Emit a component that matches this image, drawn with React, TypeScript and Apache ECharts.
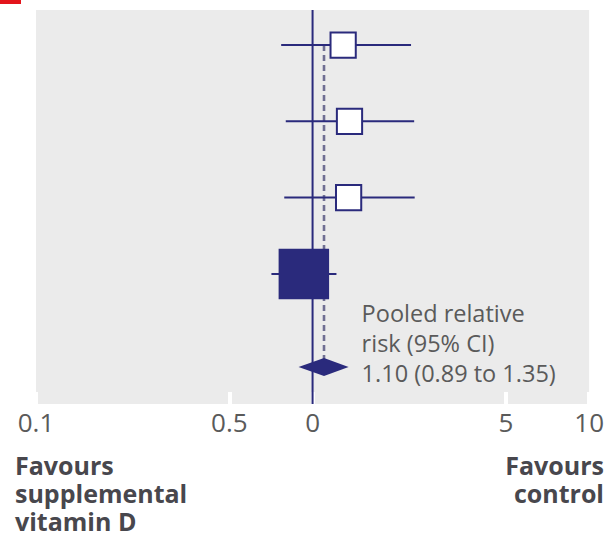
import React, { useEffect, useRef } from "react";
import * as echarts from "echarts";

// ---- Data ----
const studyRR = [1.29, 1.36, 1.35, 0.93];
const studyLower = [0.77, 0.8, 0.79, 0.71];
const studyUpper = [2.27, 2.33, 2.34, 1.22];
const studyWeight = [13, 13, 13, 52];
const studyRow = [0, 1, 2, 3];

const pooledRR = 1.1;
const pooledLower = 0.89;
const pooledUpper = 1.35;
const pooledRow = 4.22;

const tickValues = [0.1, 0.5, 1, 5, 10];
const tickLabels = ["0.1", "0.5", "0", "5", "10"];

const leftLabel = ["Favours", "supplemental", "vitamin D"];
const rightLabel = ["Favours", "control"];

// ---- Style ----
const NAVY = "#2a2a7c";
const GRID_BG = "#ebebeb";
const TEXT_GRAY = "#5a5a5a";
const BOLD_GRAY = "#48474d";
const FONT = '"Open Sans", "Noto Sans", sans-serif';
const FILLED_STUDY = 3;

const lg = (v: number) => Math.log10(v);

export default function App() {
  const ref = useRef<HTMLDivElement>(null);

  useEffect(() => {
    document.body.style.margin = "0";
    if (!ref.current) return;
    const chart = echarts.init(ref.current, null, { renderer: "svg" });

    const studyData = studyRR.map((rr, i) => [
      lg(studyLower[i]),
      lg(rr),
      lg(studyUpper[i]),
      studyRow[i],
      studyWeight[i],
    ]);

    const pooledText = `Pooled relative\nrisk (95% CI)\n${pooledRR.toFixed(2)} (${pooledLower.toFixed(2)} to ${pooledUpper.toFixed(2)})`;

    const boldText = (lines: string[], x: number, align: string) =>
      lines.map((t, i) => ({
        type: "text",
        x,
        y: 465 + i * 28,
        style: {
          text: t,
          font: `bold 25px ${FONT}`,
          fill: BOLD_GRAY,
          align,
          verticalAlign: "middle",
        },
      }));

    const option: any = {
      animation: false,
      grid: {
        left: 36,
        right: 17,
        top: 10,
        bottom: 133,
        show: true,
        backgroundColor: GRID_BG,
        borderWidth: 0,
      },
      xAxis: {
        type: "value",
        min: -1,
        max: 1,
        position: "bottom",
        axisLine: { show: false, onZero: false },
        splitLine: { show: false },
        axisTick: {
          show: true,
          inside: true,
          length: 12,
          customValues: tickValues.map(lg),
          lineStyle: { color: "#ffffff", width: 4 },
        },
        axisLabel: {
          customValues: tickValues.map(lg),
          margin: 5,
          fontSize: 26,
          fontFamily: FONT,
          color: TEXT_GRAY,
          formatter: (v: number) => {
            let best = 0;
            tickValues.forEach((t, i) => {
              if (Math.abs(lg(t) - v) < Math.abs(lg(tickValues[best]) - v)) best = i;
            });
            return tickLabels[best];
          },
        },
      },
      yAxis: {
        type: "value",
        inverse: true,
        min: -0.459,
        max: 4.705,
        show: false,
      },
      series: [
        {
          type: "line",
          z: 1,
          symbol: "none",
          silent: true,
          data: [
            [lg(pooledRR), studyRow[0]],
            [lg(pooledRR), pooledRow],
          ],
          lineStyle: { color: "#6f6e92", width: 2.6, type: [6, 4] },
        },
        {
          type: "line",
          z: 2,
          symbol: "none",
          silent: true,
          data: [
            [0, -0.459],
            [0, 4.705],
          ],
          lineStyle: { color: NAVY, width: 2 },
        },
        {
          type: "custom",
          z: 3,
          data: studyData,
          renderItem: (params: any, api: any) => {
            const y = api.value(3);
            const lo = api.coord([api.value(0), y]);
            const est = api.coord([api.value(1), y]);
            const hi = api.coord([api.value(2), y]);
            const side = 7 * Math.sqrt(api.value(4));
            const filled = params.dataIndex === FILLED_STUDY;
            return {
              type: "group",
              children: [
                {
                  type: "line",
                  shape: { x1: lo[0], y1: lo[1], x2: hi[0], y2: hi[1] },
                  style: { stroke: NAVY, lineWidth: 2 },
                },
                {
                  type: "rect",
                  shape: {
                    x: est[0] - side / 2,
                    y: est[1] - side / 2,
                    width: side,
                    height: side,
                  },
                  style: {
                    fill: filled ? NAVY : "#ffffff",
                    stroke: NAVY,
                    lineWidth: filled ? 0 : 2,
                  },
                },
              ],
            };
          },
        },
        {
          type: "custom",
          z: 4,
          data: [[lg(pooledLower), lg(pooledRR), lg(pooledUpper), pooledRow]],
          renderItem: (params: any, api: any) => {
            const y = api.value(3);
            const lo = api.coord([api.value(0), y]);
            const est = api.coord([api.value(1), y]);
            const hi = api.coord([api.value(2), y]);
            const h = 9;
            return {
              type: "group",
              children: [
                {
                  type: "polygon",
                  shape: {
                    points: [
                      [lo[0], lo[1]],
                      [est[0], est[1] - h],
                      [hi[0], hi[1]],
                      [est[0], est[1] + h],
                    ],
                  },
                  style: { fill: NAVY },
                },
                {
                  type: "text",
                  x: hi[0] + 13,
                  y: est[1] + 21,
                  style: {
                    text: pooledText,
                    font: `23.5px ${FONT}`,
                    fill: TEXT_GRAY,
                    lineHeight: 30,
                    verticalAlign: "bottom",
                    align: "left",
                  },
                },
              ],
            };
          },
        },
      ],
      graphic: [
        {
          type: "rect",
          left: 0,
          top: 0,
          shape: { width: 21, height: 4 },
          style: { fill: "#e3141b" },
        },
        ...boldText(leftLabel, 15, "left"),
        ...boldText(rightLabel, 604, "right"),
      ],
    };

    chart.setOption(option);
    return () => chart.dispose();
  }, []);

  return <div ref={ref} style={{ width: 607, height: 537 }} />;
}
